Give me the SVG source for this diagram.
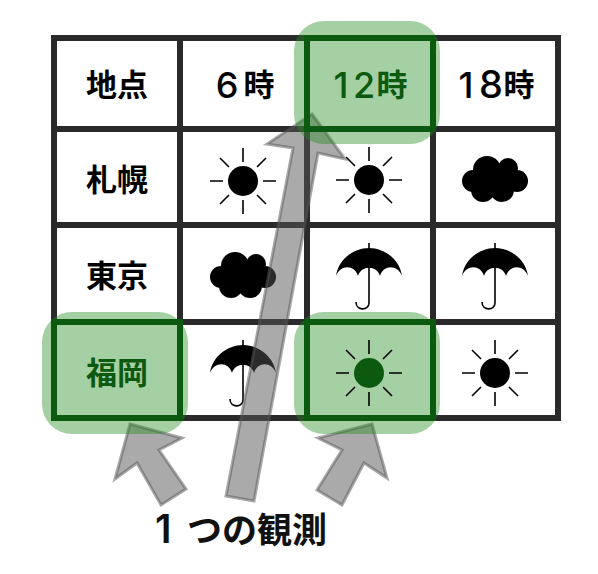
<svg xmlns="http://www.w3.org/2000/svg" width="598" height="574" viewBox="0 0 598 574">
<style>
.t{font-family:"Noto Sans CJK JP","Liberation Sans",sans-serif;font-size:31px;font-weight:600;text-anchor:middle;fill:#000}
.d{font-family:Inter,"Liberation Sans",sans-serif;font-size:36px;font-weight:500;text-anchor:middle;fill:#000}
.g{fill:#0b5a10}
.h{fill:#218c21;fill-opacity:.41;stroke:none}
.s{fill:none;stroke:#0b5a10;stroke-width:6}
.a{fill:#555;fill-opacity:.5;stroke:#555;stroke-opacity:.5;stroke-width:3}
.l{stroke:#2a2a2a;stroke-width:6;fill:none}
.ln{stroke:#000;stroke-width:1.6;fill:none}
</style>
<defs>
<g id="sun"><circle r="15"/><path class="ln" d="M0-33V-19M0 33V19M-33 0H-20M33 0H20M-23-23L-14-14M23-23L14-14M-23 23L-14 14M23 23L14 14"/></g>
<g id="cloud"><circle cx="-22" cy="2" r="11"/><circle cx="-8" cy="-9" r="14"/><circle cx="13" cy="-11" r="10"/><circle cx="22" cy="2" r="11"/><circle cx="-12" cy="11" r="12"/><circle cx="7" cy="11" r="12"/><circle cy="2" r="16"/></g>
<g id="umb"><path d="M-33 4C-31-12-16-24 0-24C16-24 31-12 33 4C29-7 15-8 11 4C8-7-8-7-11 4C-15-8-29-7-33 4Z"/><path class="ln" d="M0-29V31C0 39-13 39-13 30"/></g>
</defs>
<g id="grid"><path class="l" d="M51 38H561M51 129H561M51 225H561M51 322H561M51 418H561M54 35V421M180 35V421M307 35V421M433 35V421M558 35V421"/></g>
<g id="n-head"><text class="t" x="117" y="96">地点</text><text class="d" x="227" y="98">6</text><text class="t" x="259" y="96">時</text><text class="d" x="466" y="98">1</text><text class="d" x="491" y="98" style="font-size:38px">8</text><text class="t" x="519" y="96">時</text></g>
<g id="n-rows"><text class="t" x="117" y="191">札幌</text><text class="t" x="117" y="287">東京</text></g>
<g id="n-icons">
<use href="#sun" x="243" y="181"/><use href="#sun" x="369" y="180"/><use href="#cloud" x="495" y="179"/>
<use href="#cloud" x="243" y="275"/><use href="#umb" x="369" y="272"/><use href="#umb" x="495" y="272"/>
<use href="#umb" x="243" y="369"/><use href="#sun" x="495" y="373"/>
</g>
<g id="connectors">
<path class="a" d="M312 114L345 159L318 153L254 501L226 496L293 148L267 144Z"/>
<path class="a" d="M130 424L182 438L159 450L186 489L161 505L137 463L115 479Z"/>
<path class="a" d="M372 424L318 438L342 450L317 490L342 505L364 463L387 478Z"/>
</g>
<g id="n-12"><rect class="h" x="294" y="21" width="146" height="123" rx="30"/><rect class="s" x="307" y="38" width="126" height="91"/><text class="d g" x="341" y="98">1</text><text class="d g" x="364" y="98">2</text><text class="t g" x="392" y="96">時</text></g>
<g id="n-fukuoka"><rect class="h" x="42" y="312" width="146" height="122" rx="30"/><rect class="s" x="54" y="322" width="126" height="96"/><text class="t g" x="117" y="384">福岡</text></g>
<g id="n-cell"><rect class="h" x="294" y="312" width="146" height="122" rx="30"/><rect class="s" x="307" y="322" width="126" height="96"/><use href="#sun" x="369" y="373" style="fill:#0b5a10"/></g>
<text id="caption" y="543" style="font-family:'Noto Sans CJK JP',sans-serif;font-size:35px;font-weight:600;fill:#111"><tspan x="155" style="font-family:Inter,sans-serif;font-size:39px;font-weight:600">1</tspan><tspan x="187">つの観測</tspan></text>
</svg>
